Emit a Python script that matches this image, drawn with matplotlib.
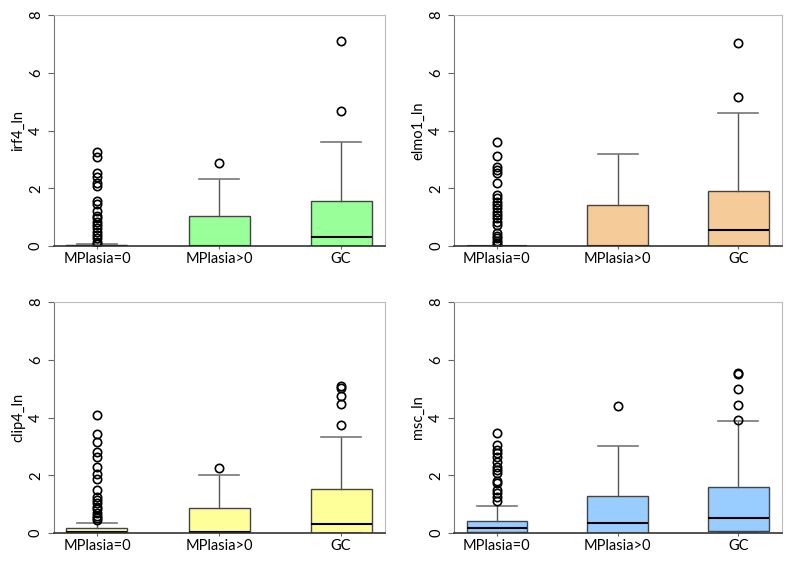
import numpy as np
import matplotlib.pyplot as plt

groups = ["MPlasia=0", "MPlasia>0", "GC"]

# five-number summaries: (whislo, q1, med, q3, whishi)
irf4_stats = [(0, 0, 0, 0.03, 0.07), (0, 0, 0, 1.03, 2.31), (0, 0, 0.30, 1.56, 3.59)]
irf4_out = [
    [3.26, 3.09, 2.54, 2.40, 2.17, 2.09, 1.57, 1.45, 1.22, 1.04, 0.96, 0.84,
     0.73, 0.61, 0.50, 0.38, 0.27, 0.15, 0.08],
    [2.86],
    [4.69, 7.11],
]

elmo1_stats = [(0, 0, 0, 0, 0), (0, 0, 0, 1.42, 3.18), (0, 0, 0.55, 1.92, 4.62)]
elmo1_out = [
    [3.61, 3.11, 2.72, 2.63, 2.54, 2.17, 1.77, 1.65, 1.53, 1.42, 1.30, 1.19,
     1.07, 0.96, 0.84, 0.73, 0.44, 0.35, 0.27, 0.19, 0.10, 0.03],
    [],
    [5.16, 7.03],
]

clip4_stats = [(0, 0, 0.02, 0.16, 0.34), (0, 0, 0.03, 0.87, 2.0), (0, 0, 0.32, 1.51, 3.34)]
clip4_out = [
    [4.08, 3.43, 3.16, 2.81, 2.64, 2.29, 2.06, 1.86, 1.49, 1.24, 1.15, 1.03,
     0.91, 0.82, 0.70, 0.59, 0.51, 0.45],
    [2.25],
    [3.75, 4.46, 4.73, 5.02, 5.10],
]

msc_stats = [(0, 0.02, 0.18, 0.40, 0.92), (0, 0, 0.35, 1.27, 3.0), (0, 0.06, 0.51, 1.59, 3.88)]
msc_out = [
    [3.45, 3.04, 2.87, 2.76, 2.62, 2.47, 2.29, 2.18, 2.07, 1.81, 1.72, 1.49,
     1.37, 1.24, 1.12],
    [4.39],
    [3.93, 4.43, 4.99, 5.50, 5.54],
]

panels = [
    ("irf4_ln", irf4_stats, irf4_out, "#99ff99"),
    ("elmo1_ln", elmo1_stats, elmo1_out, "#f5cb99"),
    ("clip4_ln", clip4_stats, clip4_out, "#ffff99"),
    ("msc_ln", msc_stats, msc_out, "#99ccff"),
]

# axes rectangles in figure fractions
rects = [
    [0.0676, 0.5714, 0.4143, 0.4024],
    [0.5686, 0.5714, 0.4100, 0.4024],
    [0.0676, 0.0714, 0.4143, 0.4024],
    [0.5686, 0.0714, 0.4100, 0.4024],
]

plt.rcParams["font.family"] = ["Lato", "DejaVu Sans"]

fig = plt.figure(figsize=(7.99, 5.74), dpi=100)

for rect, (label, stats, outs, color) in zip(rects, panels):
    ax = fig.add_axes(rect)
    bxp_stats = []
    for (lo, q1, med, q3, hi), fl in zip(stats, outs):
        bxp_stats.append(dict(whislo=lo, q1=q1, med=med, q3=q3, whishi=hi,
                              fliers=fl))
    ax.bxp(bxp_stats, positions=[1, 2, 3], widths=0.5, patch_artist=True,
           showfliers=True, capwidths=0.33,
           boxprops=dict(facecolor=color, edgecolor="#444444", linewidth=1.0),
           medianprops=dict(color="black", linewidth=1.5),
           whiskerprops=dict(color="#555555", linewidth=1.0),
           capprops=dict(color="#777777", linewidth=1.2),
           flierprops=dict(marker="o", markerfacecolor="none",
                           markeredgecolor="black", markersize=6,
                           markeredgewidth=1.2))
    ax.set_xlim(0.648, 3.36)
    ax.set_ylim(0, 8)
    ax.set_yticks([0, 2, 4, 6, 8])
    ax.set_xticks([1, 2, 3])
    ax.set_xticklabels(groups, fontsize=10.5)
    for t in ax.get_yticklabels():
        t.set_rotation(90)
        t.set_verticalalignment("center")
    ax.tick_params(axis="y", labelsize=10.5, length=4, color="#666666", pad=4)
    ax.tick_params(axis="x", length=2, color="#666666", pad=2)
    ax.set_ylabel(label, fontsize=10.5)
    # place label the way the reference does (about 29 px left of the axis)
    ax.yaxis.set_label_coords(-29 / (rect[2] * 799), 0.5)
    ax.spines["left"].set_color("#777777")
    ax.spines["bottom"].set_color("#333333")
    ax.spines["bottom"].set_linewidth(1.2)
    ax.spines["top"].set_color("#bbbbbb")
    ax.spines["right"].set_color("#bbbbbb")

fig.savefig("out.png", dpi=100)
